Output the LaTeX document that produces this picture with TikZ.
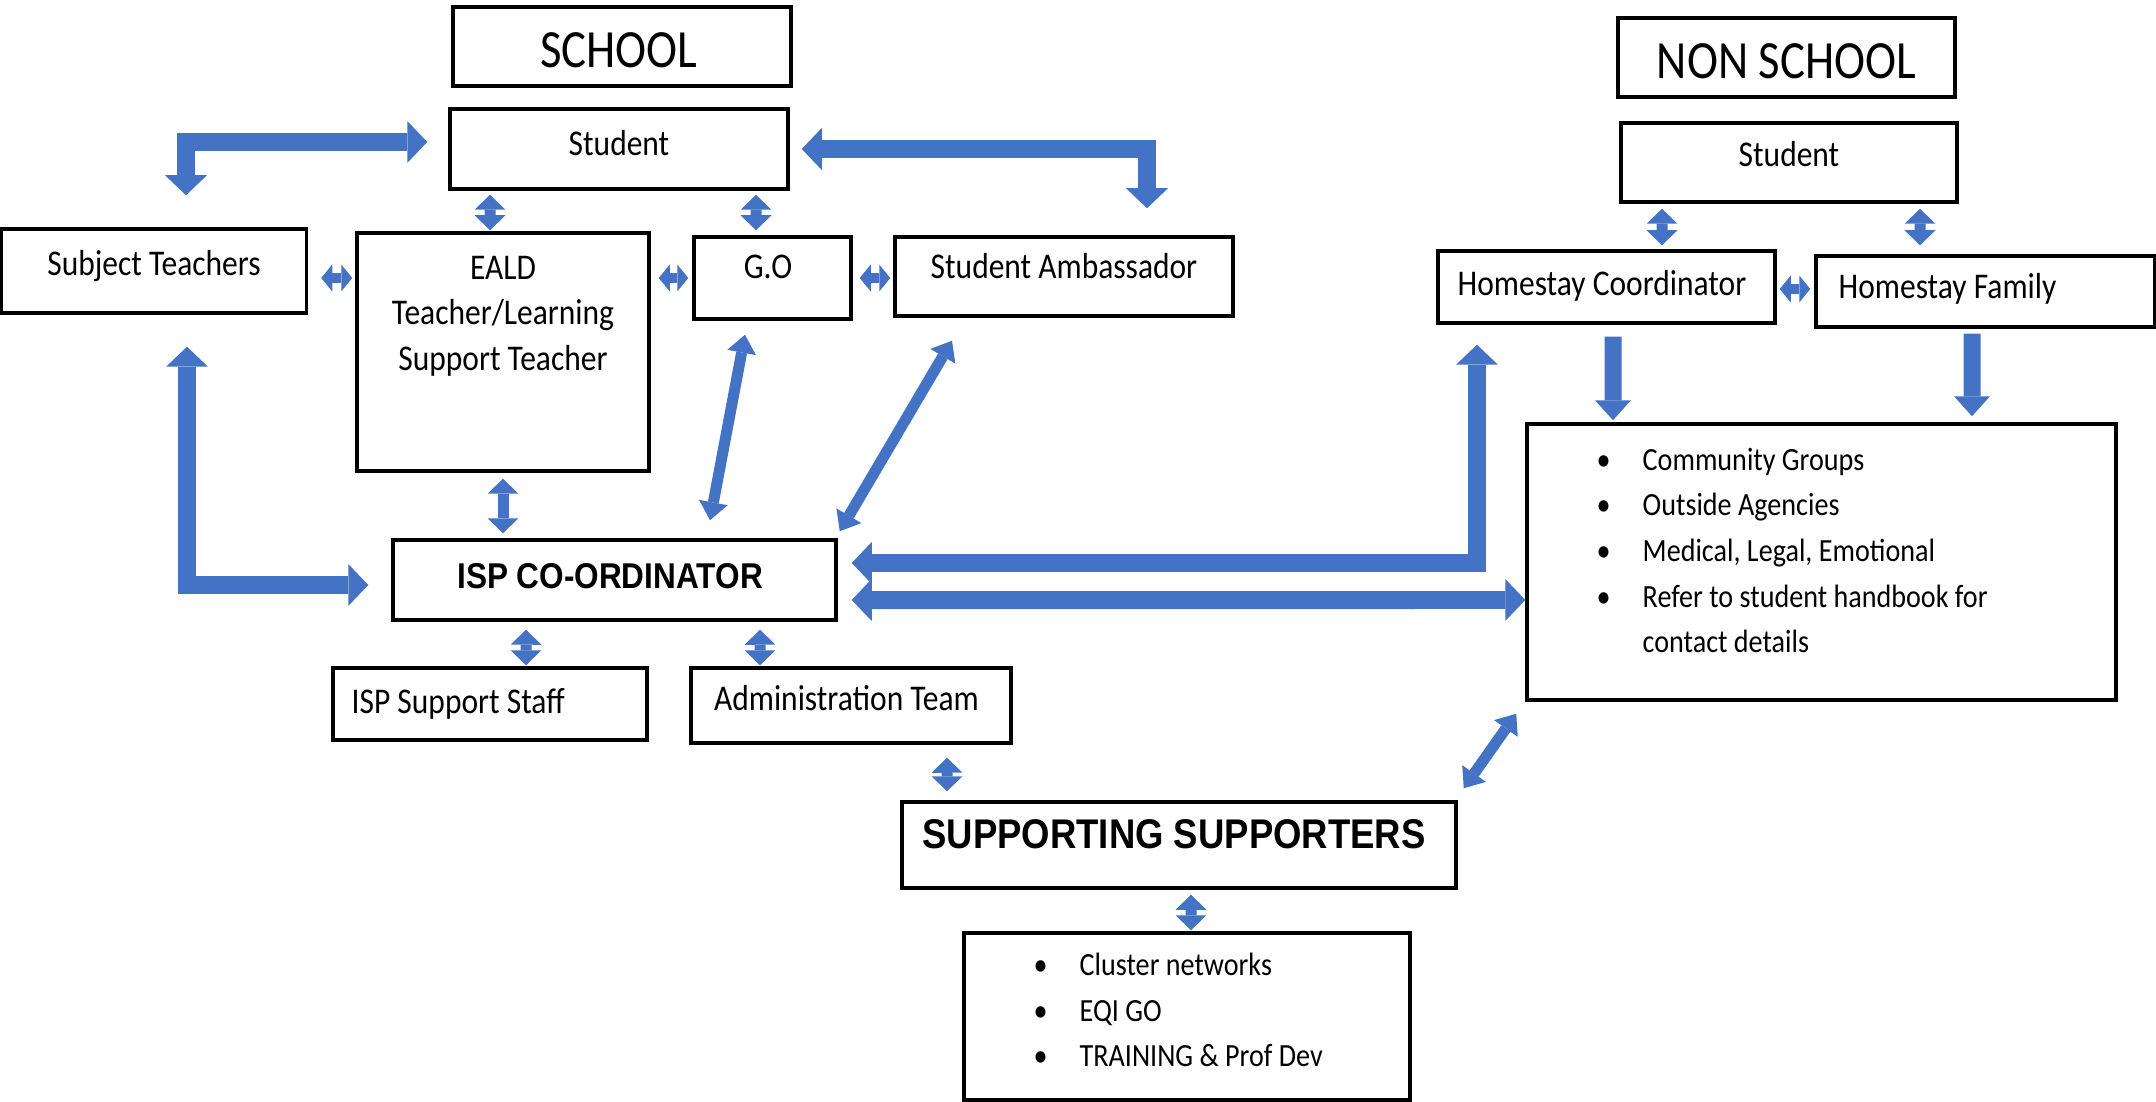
\documentclass[tikz,border=0pt]{standalone}
\usepackage{fontspec}
\setmainfont{Carlito}[FakeStretch=0.87]
\newfontfamily\boldfam{Liberation Sans}[FakeStretch=0.88]
\usetikzlibrary{arrows.meta}
\definecolor{arrblue}{HTML}{4472C4}
\newcommand{\blt}{\textbullet\hspace{3.2mm}}

\begin{document}
\begin{tikzpicture}[x=0.1mm,y=-0.1mm]
\tikzstyle{box}=[draw=black, line width=0.35mm, inner sep=0pt]
\tikzstyle{txt}=[inner sep=0pt, anchor=base, font=\fontsize{10.3}{13}\selectfont]
\tikzstyle{head}=[inner sep=0pt, anchor=base, font=\fontsize{15.3}{18}\selectfont]
\tikzstyle{bold}=[inner sep=0pt, anchor=base, font=\boldfam\bfseries\fontsize{10.2}{12}\selectfont]
\tikzstyle{bigbold}=[inner sep=0pt, anchor=base, font=\boldfam\bfseries\fontsize{11.8}{14}\selectfont]
\tikzstyle{list}=[inner sep=0pt, anchor=north west, align=left, font=\fontsize{9.2}{13}\selectfont]
\tikzstyle{bigarr}=[arrblue, line width=1.8mm, {Triangle[width=4.2mm,length=2mm,line width=0pt]}-{Triangle[width=4.2mm,length=2mm,line width=0pt]}]
\tikzstyle{downarr}=[arrblue, line width=1.7mm, -{Triangle[width=3.6mm,length=2mm,line width=0pt]}]
\tikzstyle{slant}=[arrblue, line width=1.1mm, {Triangle[width=2.9mm,length=1.8mm,line width=0pt]}-{Triangle[width=2.9mm,length=1.8mm,line width=0pt]}]
\tikzstyle{tiny}=[arrblue, line width=1.1mm, {Triangle[width=3.1mm,length=1.5mm,line width=0pt]}-{Triangle[width=3.1mm,length=1.5mm,line width=0pt]}]
\tikzstyle{tinyh}=[arrblue, line width=1mm, {Triangle[width=2.7mm,length=1.1mm,line width=0pt]}-{Triangle[width=2.7mm,length=1.1mm,line width=0pt]}]

\useasboundingbox (0,0) rectangle (2156,1102);

% school side
\node[box, minimum width=33.8mm, minimum height=7.9mm, label={[head, xshift=-0.3mm, yshift=-6.2mm]north:SCHOOL}] (school) at (622,46.5) {};
\node[box, minimum width=33.8mm, minimum height=8mm, label={[txt, yshift=-4.8mm]north:Student}] (student) at (619,149) {};

\node[box, minimum width=30.5mm, minimum height=8.4mm, label={[txt, yshift=-4.8mm]north:Subject Teachers}] (subj) at (154,271) {};
\node[box, minimum width=29.2mm, minimum height=23.8mm, label={[txt, anchor=north, align=center, yshift=-2.4mm]north:{EALD\\Teacher/Learning\\Support Teacher}}] (eald) at (503,352) {};
\node[box, minimum width=15.7mm, minimum height=8.2mm, label={[txt, xshift=-0.45mm, yshift=-4.3mm]north:G.O}] (go) at (772.5,278) {};
\node[box, minimum width=33.8mm, minimum height=7.9mm, label={[txt, yshift=-4.3mm]north:Student Ambassador}] (amb) at (1064,276.5) {};

\node[box, minimum width=44.3mm, minimum height=8mm, label={[bold, xshift=-0.45mm, yshift=-5mm]north:ISP CO-ORDINATOR}] (isp) at (614.5,580) {};
\node[box, minimum width=31.4mm, minimum height=7.2mm, label={[txt, anchor=base west, xshift=-13.9mm, yshift=-4.7mm]north:ISP Support Staff}] (staff) at (490,704) {};
\node[box, minimum width=32mm, minimum height=7.5mm, label={[txt, xshift=-0.45mm, yshift=-4.4mm]north:Administration Team}] (admin) at (851,705.5) {};

\node[box, minimum width=55.4mm, minimum height=8.6mm, label={[bigbold, xshift=-0.5mm, yshift=-4.8mm]north:SUPPORTING SUPPORTERS}] (supp) at (1179,845) {};
\node[box, minimum width=44.6mm, minimum height=16.7mm, label={[list, xshift=-15.4mm, yshift=-2.1mm]north:{\blt Cluster networks\\\blt EQI GO\\\blt TRAINING \& Prof Dev}}] (bul) at (1187,1016.5) {};

% non school side
\node[box, minimum width=33.7mm, minimum height=7.9mm, label={[head, yshift=-6.2mm]north:NON SCHOOL}] (nonschool) at (1786.5,57.5) {};
\node[box, minimum width=33.6mm, minimum height=7.9mm, label={[txt, yshift=-4.5mm]north:Student}] (student2) at (1789,162.5) {};
\node[box, minimum width=33.7mm, minimum height=7.2mm, label={[txt, anchor=base west, xshift=-14.95mm, yshift=-4.6mm]north:Homestay Coordinator}] (hcoord) at (1606.5,287) {};
\node[box, minimum width=33.9mm, minimum height=7.1mm, label={[txt, anchor=base west, xshift=-14.75mm, yshift=-4.4mm]north:Homestay Family}] (hfam) at (1985.5,291.5) {};
\node[box, minimum width=58.9mm, minimum height=27.6mm, label={[list, xshift=-22.55mm, yshift=-2.5mm]north:{\blt Community Groups\\\blt Outside Agencies\\\blt Medical, Legal, Emotional\\\blt Refer to student handbook for\\\hphantom{\blt}contact details}}] (comm) at (1821.5,562) {};

% big arrows
\draw[bigarr] ([xshift=-2.1mm,yshift=0.7mm]student.west) -| ([xshift=3.2mm,yshift=3.2mm]subj.north);
\draw[bigarr] ([xshift=1.2mm]student.east) -| ([xshift=8.3mm,yshift=2.7mm]amb.north);
\draw[bigarr] ([xshift=3.3mm,yshift=-3.2mm]subj.south) |- ([xshift=-2.3mm,yshift=-0.5mm]isp.west);
\draw[bigarr] ([xshift=1.4mm,yshift=1.7mm]isp.east) -| ([xshift=-12.95mm,yshift=-2mm]hcoord.south);
\draw[bigarr] ([xshift=1.4mm,yshift=-2mm]isp.east) -- ([yshift=-3.8mm]comm.west);
\draw[downarr] ([xshift=0.65mm,yshift=-1.2mm]hcoord.south) -- ([xshift=-20.85mm,yshift=0.2mm]comm.north);
\draw[downarr] ([xshift=-1.35mm,yshift=-0.5mm]hfam.south) -- ([xshift=15.05mm,yshift=0.6mm]comm.north);

% small arrows
\draw[tiny] ([xshift=-12.9mm,yshift=-0.4mm]student.south) -- ([xshift=-1.3mm,yshift=0.1mm]eald.north);
\draw[tiny] ([xshift=13.7mm,yshift=-0.4mm]student.south) -- ([xshift=-1.65mm,yshift=0.5mm]go.north);
\draw[tinyh] ([xshift=1.3mm,yshift=-0.7mm]subj.east) -- ([xshift=-0.3mm,yshift=-0.7mm]subj.east -| eald.west);
\draw[tinyh] ([xshift=0.8mm]go.west -| eald.east) -- ([xshift=-0.4mm]go.west);
\draw[tinyh] ([xshift=0.7mm]go.east) -- ([xshift=-0.3mm]go.east -| amb.west);
\draw[tiny] ([yshift=-0.6mm]eald.south) -- ([yshift=0.5mm]eald.south |- isp.north);
\draw[tiny] ([xshift=-8.85mm,yshift=-0.8mm]isp.south) -- ([xshift=3.6mm,yshift=0.1mm]staff.north);
\draw[tiny] ([xshift=14.55mm,yshift=-0.8mm]isp.south) -- ([xshift=-9.1mm,yshift=0.1mm]admin.north);
\draw[tiny] ([xshift=9.6mm,yshift=-1.3mm]admin.south) -- ([xshift=-23.2mm,yshift=0.9mm]supp.north);
\draw[tiny] ([xshift=1.2mm,yshift=-0.5mm]supp.south) -- ([xshift=0.4mm,yshift=0.1mm]bul.north);
\draw[tiny] ([xshift=-12.7mm,yshift=-0.5mm]student2.south) -- ([xshift=5.55mm,yshift=0.4mm]hcoord.north);
\draw[tiny] ([xshift=13.1mm,yshift=-0.5mm]student2.south) -- ([xshift=-6.55mm,yshift=0.9mm]hfam.north);
\draw[tinyh] ([xshift=0.3mm,yshift=-0.2mm]hcoord.east) -- ([xshift=-0.4mm,yshift=-0.2mm]hcoord.east -| hfam.west);

% slanted arrows
\draw[slant] ([xshift=-2.75mm,yshift=-1.4mm]go.south) -- ([xshift=9.55mm,yshift=1.8mm]isp.north);
\draw[slant] ([xshift=-11.2mm,yshift=-2.3mm]amb.south) -- ([xshift=0.2mm,yshift=0.7mm]isp.north east);
\draw[slant] ([xshift=0.6mm,yshift=1.2mm]supp.north east) -- ([xshift=-0.9mm,yshift=-1.2mm]comm.south west);

\end{tikzpicture}
\end{document}
